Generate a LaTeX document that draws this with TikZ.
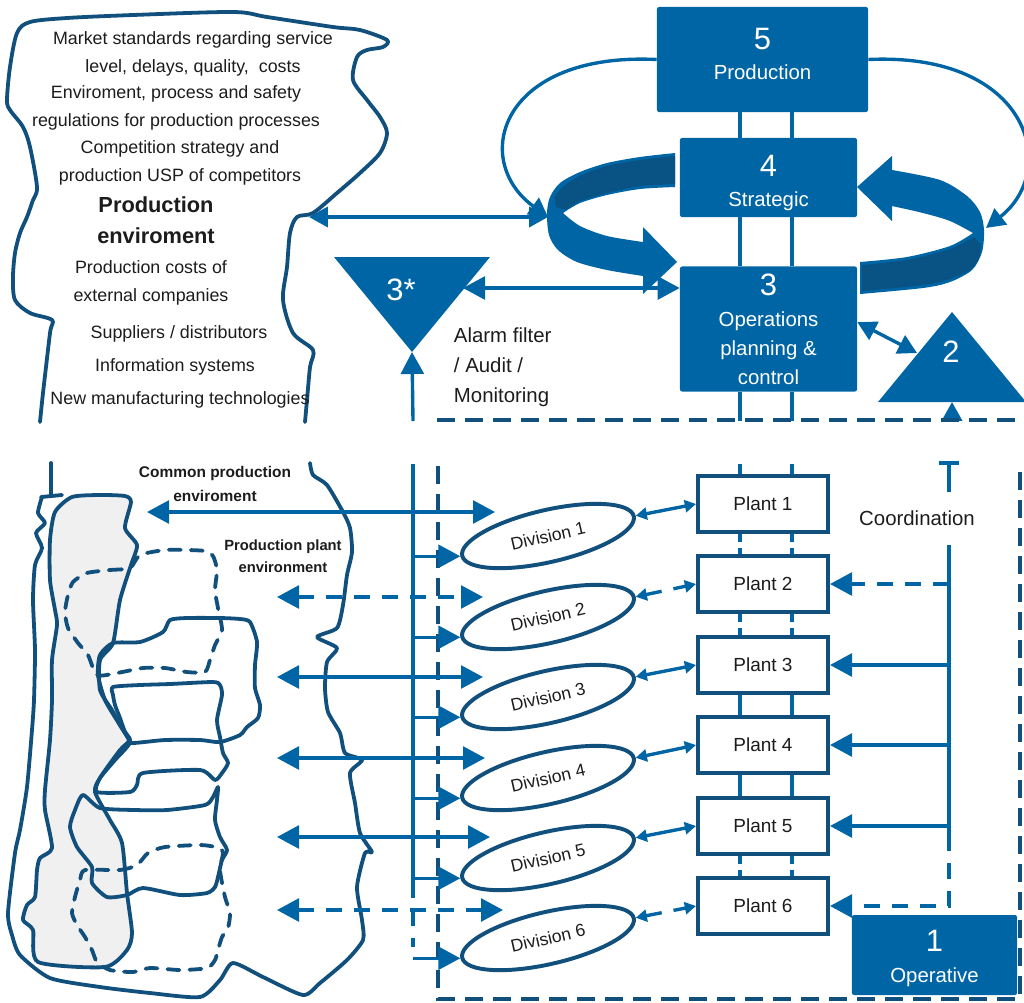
\documentclass[tikz,border=0pt]{standalone}
\usepackage{fontspec}
\setmainfont{Liberation Sans}
\usetikzlibrary{arrows.meta,shapes.geometric}
\definecolor{vsmblue}{RGB}{0,101,165}
\definecolor{vsmdark}{RGB}{17,80,125}
\definecolor{ringdark}{RGB}{8,82,132}
\definecolor{envgrey}{RGB}{240,240,240}
\definecolor{inkgrey}{RGB}{28,28,28}
\newcommand{\levelnum}{\fontsize{22}{24}\selectfont}

\begin{document}
\begin{tikzpicture}[
        x=0.025cm, y=-0.025cm,
        >={Triangle[length=0.55cm,width=0.57cm]},
        flow/.style={draw=vsmblue, line width=2.4pt},
        smallhead/.style={>={Triangle[length=0.28cm,width=0.3cm]}},
        midhead/.style={>={Triangle[length=0.47cm,width=0.5cm]}},
        dashflow/.style={dash pattern=on 0.4cm off 0.3cm},
        shortdash/.style={dash pattern=on 0.2cm off 0.15cm},
        levelbox/.style={fill=vsmblue, rounded corners=1.5pt, text=white, align=center, inner sep=0pt, font=\fontsize{14.5}{20.5}\selectfont},
        plantbox/.style={draw=vsmdark, line width=2.8pt, fill=white, minimum width=3.25cm, minimum height=1.42cm, inner sep=0pt, font=\fontsize{13.5}{16}\selectfont, text=inkgrey},
        divbox/.style={ellipse, draw=vsmdark, line width=2.8pt, minimum width=4.4cm, minimum height=1.3cm, inner sep=0pt, font=\fontsize{12.5}{15}\selectfont, text=inkgrey},
        envline/.style={draw=vsmdark, line width=2.7pt, line join=round, line cap=round},
        envdash/.style={envline, dash pattern=on 0.3cm off 0.25cm},
        envtext/.style={font=\fontsize{12.7}{19.5}\selectfont, text=inkgrey, align=center},
        envbold/.style={font=\bfseries\fontsize{11}{17.5}\selectfont, text=inkgrey, align=center},
        note/.style={font=\fontsize{14.5}{21.3}\selectfont, text=inkgrey}
    ]
    \useasboundingbox (0,0) rectangle (1024,1002);

    % production environment, upper half
    \draw[envline] plot[smooth, tension=0.5] coordinates {(40,422) (43,393) (50,333) (52,320) (30,313) (15,300) (13,277) (15,253) (20,233) (27,217) (33,200) (37,187) (30,147) (23,127) (10,110) (7,100) (10,67) (17,33) (30,22) (67,18) (133,15) (233,12) (267,17) (333,27) (360,30) (387,40) (383,47) (367,50) (357,57) (353,80) (367,100) (380,117) (387,133) (380,153) (360,173) (337,193) (313,213) (297,217) (290,233) (287,267) (283,300) (293,333) (313,350) (310,367) (307,400) (305,422)};
    \node[envtext] (market) at (193,54) {Market standards regarding service\\level, delays, quality,~ costs};
    \node[envtext] (regs) at (176,108) {Enviroment, process and safety\\regulations for production processes};
    \node[envtext] (comp) at (180,163) {Competition strategy and\\production USP of competitors};
    \node[envtext, font=\bfseries\fontsize{15.5}{22}\selectfont] (prodenv) at (156,220) {Production\\enviroment};
    \node[envtext] (costs) at (151,283) {Production costs of\\external companies};
    \node[envtext] (suppliers) at (179,334) {Suppliers / distributors};
    \node[envtext] (infosys) at (175,367) {Information systems};
    \node[envtext] (newtech) at (180,400) {New manufacturing technologies};
    \coordinate (cloudgate) at (309,217);

    % production environment, lower half
    \draw[envline] (51,463) -- (51,495);
    \draw[envline] (41,497) -- (62,495);
    \draw[envline] plot[smooth, tension=0.4] coordinates {(42,497) (38,513) (45,523) (36,533) (42,548) (35,565) (33,600) (35,650) (34,700) (32,730) (27,787) (20,830) (15,853) (8,913) (12,935) (20,955) (50,978) (100,987) (150,993) (200,997) (220,980) (233,963) (263,977) (303,995) (320,983) (347,960) (363,940) (362,920) (357,887) (365,853) (372,852) (360,833) (355,803) (350,773) (362,760) (345,753) (340,733) (328,712) (325,688) (327,662) (337,648) (317,637) (337,628) (343,605) (347,575) (352,552) (350,528) (343,512) (327,485) (313,475) (310,463)};
    \filldraw[envline, fill=envgrey] plot[smooth cycle, tension=0.4] coordinates {(55,512) (72,497) (100,495) (125,496) (131,502) (125,528) (137,545) (131,565) (120,600) (113,643) (100,660) (100,690) (112,710) (120,725) (130,742) (115,760) (100,778) (95,792) (110,820) (122,843) (127,893) (132,933) (127,950) (105,967) (38,962) (33,930) (23,920) (27,905) (35,897) (37,870) (40,858) (52,848) (45,810) (45,790) (50,740) (52,700) (52,660) (57,625) (55,610) (50,580) (50,540)};
    \draw[envdash] plot[smooth cycle, tension=0.4] coordinates {(87,573) (110,570) (130,568) (140,555) (165,550) (187,550) (205,551) (213,556) (217,570) (215,590) (218,608) (222,630) (215,645) (210,660) (205,672) (187,672) (165,668) (143,668) (117,673) (97,675) (88,655) (78,643) (68,628) (65,612) (68,595) (73,582)};
    \draw[envline] plot[smooth cycle, tension=0.4] coordinates {(100,655) (113,643) (140,642) (163,632) (170,620) (187,618) (220,618) (240,619) (250,622) (257,642) (255,665) (255,688) (260,705) (258,718) (247,727) (240,735) (220,742) (200,740) (165,740) (132,743) (128,738) (118,722) (105,700) (98,675)};
    \draw[envline] plot[smooth cycle, tension=0.4] coordinates {(113,687) (140,685) (170,684) (213,682) (220,685) (222,695) (217,720) (220,737) (223,753) (228,763) (222,773) (215,780) (200,770) (143,773) (137,785) (130,792) (97,792) (100,778) (120,750) (130,740) (125,732) (120,718) (115,705) (113,695)};
    \draw[envline] plot[smooth cycle, tension=0.4] coordinates {(83,795) (100,808) (135,810) (167,810) (205,805) (213,797) (218,787) (217,800) (215,820) (220,837) (227,850) (222,860) (218,877) (215,887) (207,893) (180,895) (143,888) (127,895) (107,897) (92,883) (92,867) (77,847) (70,827) (75,810)};
    \draw[envdash] plot[smooth cycle, tension=0.4] coordinates {(85,870) (120,870) (137,865) (148,853) (165,847) (200,845) (215,847) (223,852) (220,870) (225,897) (230,913) (228,928) (222,937) (218,950) (215,960) (207,968) (180,970) (150,968) (133,972) (110,970) (97,962) (92,950) (85,937) (77,925) (72,913) (75,897) (80,880)};
    \node[envbold] (commonenv) at (215,484) {Common production\\enviroment};
    \node[envbold, font=\bfseries\fontsize{10.5}{15.6}\selectfont] (plantenv) at (283,556) {Production plant\\environment};

    % ring arrows between 3 and 4
    \fill[vsmblue] plot[smooth] coordinates {(675,153) (640,157) (607,163) (580,172) (560,183) (550,197) (547,213) (549,235) (558,250) (577,262) (607,270) (643,276)} -- (643,294) -- (677,262) -- (643,227) -- plot[smooth] coordinates {(643,242) (607,236) (580,226) (563,213)} -- plot[smooth] coordinates {(563,213) (580,203) (607,195) (640,189) (675,187)} -- cycle;
    \fill[ringdark] plot[smooth] coordinates {(675,156) (640,160) (607,166) (582,175) (564,186) (555,197) (556,207)} -- (565,210) -- plot[smooth] coordinates {(580,201) (607,193) (640,186) (675,184)} -- cycle;
    \fill[vsmblue] (857,187) -- (892,156) -- plot[smooth] coordinates {(892,170) (940,180) (967,196) (980,212) (984,230) (982,252) (972,270) (950,282) (923,288) (860,294)} -- plot[smooth] coordinates {(860,262) (907,257) (950,246) (973,233)} -- plot[smooth] coordinates {(973,233) (950,221) (923,213) (892,206)} -- (892,221) -- cycle;
    \fill[ringdark] plot[smooth] coordinates {(862,265) (907,260) (950,249) (974,237)} -- plot[smooth] coordinates {(981,245) (979,258) (970,270) (950,279) (923,285) (862,291)} -- cycle;
    \coordinate (ringL) at (548,217);
    \coordinate (ringR) at (986,228);

    % system levels
    \coordinate (lnA) at (740,0);
    \coordinate (lnB) at (792,0);
    \coordinate (vline) at (413,0);
    \coordinate (gaptop) at (0,421);
    \coordinate (gapbot) at (0,464);
    \node[levelbox, minimum width=5.275cm, minimum height=2.625cm, text depth=0.3cm] (box5) at (762.5,59.5) {{\levelnum 5}\\[1pt]Production};
    \node[levelbox, minimum width=4.425cm, minimum height=1.975cm, text height=1.55cm] (box4) at (768.5,177.5) {{\levelnum 4}\\[1pt]Strategic};
    \node[levelbox, minimum width=4.425cm, minimum height=3.125cm] (box3) at (768.5,329) {{\levelnum 3}\\[2pt]Operations\\planning \&\\control};
    \foreach \c in {lnA,lnB} {
        \draw[flow] (box5.south -| \c) -- (box4.north -| \c);
        \draw[flow] (box4.south -| \c) -- (box3.north -| \c);
        \draw[flow] (box3.south -| \c) -- (gaptop -| \c);
    }
    \draw[flow, ->, midhead] (box5.west) .. controls (500,52) and (470,160) .. (ringL);
    \draw[flow, ->, midhead] (box5.east) .. controls (1030,52) and (1060,170) .. (ringR);
    \draw[flow, <->, midhead] (cloudgate) -- (ringL);

    % 3* and 2
    \coordinate (t3a) at (334,257);
    \coordinate (t3b) at (490,257);
    \coordinate (t3c) at (412,352);
    \fill[vsmblue] (t3a) -- (t3b) -- (t3c) -- cycle;
    \node[text=white, font=\levelnum] (tri3) at (401,290) {3*};
    \coordinate (t3edge) at (463,288);
    \coordinate (t2a) at (878,402);
    \coordinate (t2b) at (1026,402);
    \coordinate (t2c) at (952,312);
    \fill[vsmblue] (t2a) -- (t2b) -- (t2c) -- cycle;
    \node[text=white, font=\levelnum] (tri2) at (951,352) {2};
    \coordinate (t2edge) at (917,353);
    \coordinate (t2foot) at (952,402);
    \draw[flow, <->] (t3edge) -- (t3edge -| box3.west);
    \draw[flow, <->, midhead] ([yshift=0.17cm]box3.east) -- (t2edge);
    \draw[flow, ->] (gaptop -| vline) -- (t3c);
    \draw[flow, ->, midhead] (gaptop -| t2foot) -- (t2foot);
    \node[note, anchor=west, align=left] (alarm) at (449,367) {Alarm filter\\/ Audit /\\Monitoring};

    % operative frame
    \draw[vsmdark, line width=3pt, dash pattern=on 0.45cm off 0.25cm] (437,420) -- (1024,420);
    \draw[vsmdark, line width=3pt, dash pattern=on 0.45cm off 0.25cm] (438,466) -- (438,999) -- (1020,999) -- (1020,466);
    \node[levelbox, minimum width=4.125cm, minimum height=2cm, text height=1.5cm] (box1) at (934.5,955) {{\levelnum 1}\\[2pt]Operative};

    % plants and divisions
    \foreach \i/\y in {1/504,2/584,3/665,4/745,5/826,6/906}
        \node[plantbox] (plant\i) at (763,\y) {Plant \i};
    \foreach \i/\y in {1/536,2/617,3/697,4/778,5/858,6/938}
        \node[divbox, rotate=13] (div\i) at (548,\y) {Division \i};

    \coordinate (vsplit) at (413,882);
    \coordinate (vend) at (413,947);
    \draw[flow] (gapbot -| vline) -- (vsplit);
    \draw[flow, dashflow] (vsplit) -- (vend);
    \foreach \i/\r/\l/\e/\s in {1/512/147/495/solid,2/597/277/483/dashflow,3/677/277/483/solid,4/758/277/485/solid,5/837/277/490/solid,6/910/277/503/dashflow} {
        \coordinate (env\i) at (\l,\r);
        \coordinate (in\i) at (\e,\r);
        \draw[flow, <->, \s] (env\i) -- (in\i);
        \draw[flow, ->] (div\i.west -| vline) -- (div\i.west);
        \draw[flow, <->, smallhead, \s] (div\i.east) -- (plant\i.west);
    }

    \draw[flow] (gapbot -| lnA) -- (plant1.north -| lnA);
    \draw[flow] (gapbot -| lnB) -- (plant1.north -| lnB);
    \foreach \a/\b/\s in {1/2/shortdash,2/3/shortdash,3/4/solid,4/5/solid,5/6/shortdash} {
        \draw[flow, \s] (plant\a.south -| lnA) -- (plant\b.north -| lnA);
        \draw[flow, \s] (plant\a.south -| lnB) -- (plant\b.north -| lnB);
    }

    % coordination
    \coordinate (coordtop) at (949,463);
    \coordinate (coordcap) at (949,492);
    \coordinate (coordmid) at (949,545);
    \coordinate (coordsplit) at (949,835);
    \coordinate (coordend) at (949,906);
    \draw[flow] ([xshift=-0.25cm]coordtop) -- ([xshift=0.25cm]coordtop);
    \draw[flow] (coordtop) -- (coordcap);
    \draw[flow] (coordmid) -- (coordsplit);
    \node[note] (coord) at (917,518) {Coordination};
    \draw[flow, ->, dashflow] (plant2.east -| coordmid) -- (plant2.east);
    \foreach \i in {3,4,5}
        \draw[flow, ->] (plant\i.east -| coordmid) -- (plant\i.east);
    \draw[flow, ->, dashflow] (coordsplit) -- (coordend) -- (plant6.east);

\end{tikzpicture}
\end{document}
